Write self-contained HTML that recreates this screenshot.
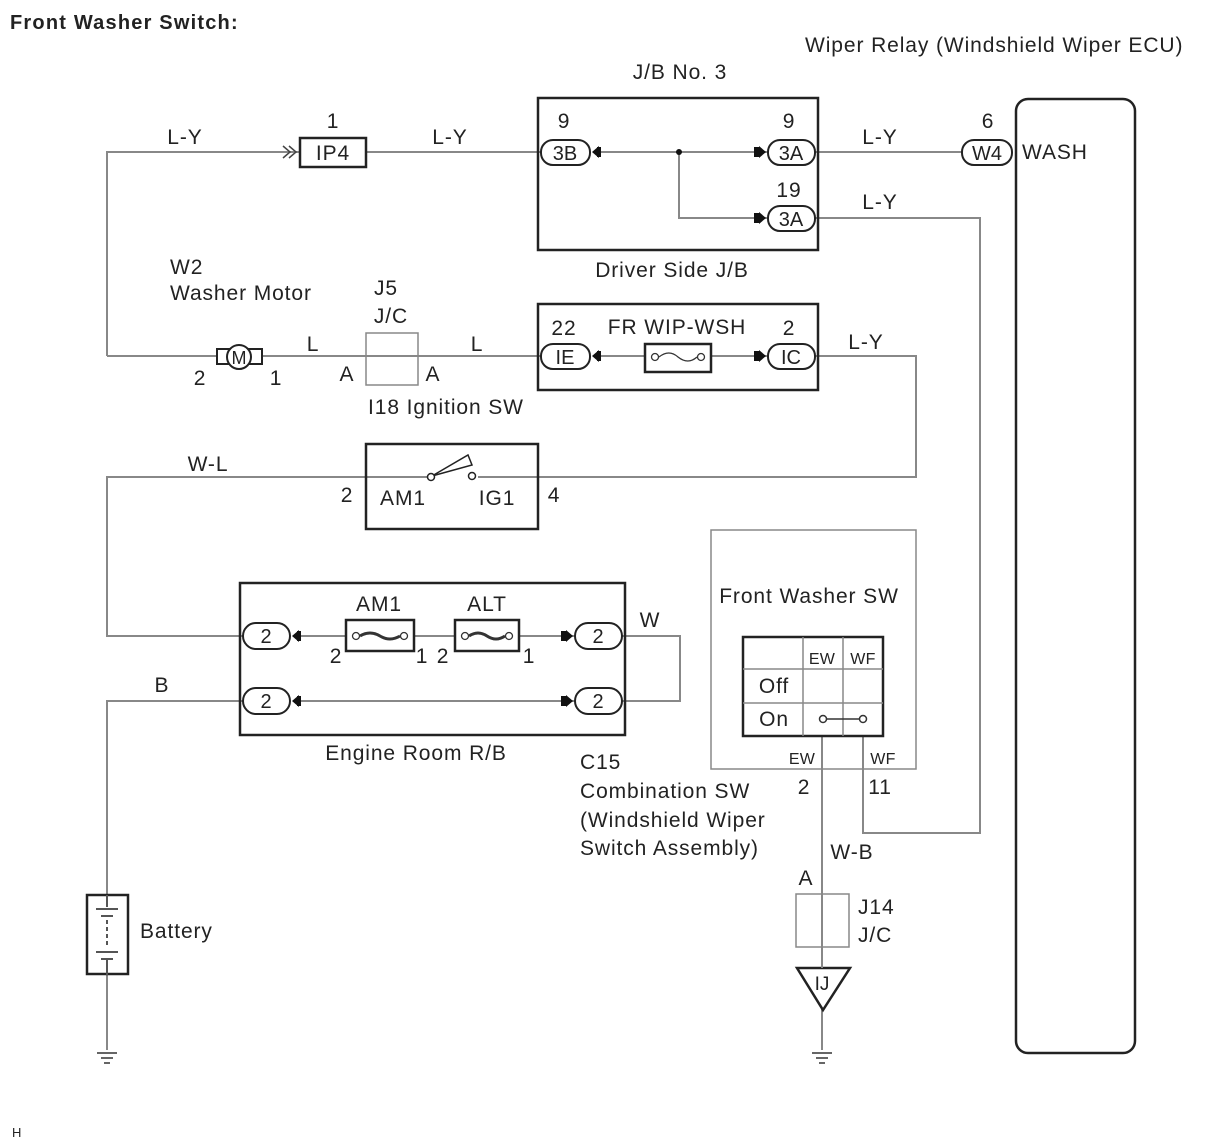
<!DOCTYPE html>
<html><head><meta charset="utf-8"><style>
html,body{margin:0;padding:0;background:#fff;}
svg{display:block;font-family:"Liberation Sans",Arial,sans-serif;}
</style></head><body>
<svg width="1212" height="1144" viewBox="0 0 1212 1144" xmlns="http://www.w3.org/2000/svg">
<g fill="#222" font-size="21" letter-spacing="0.9">
<text x="10" y="29" font-weight="bold" font-size="20" letter-spacing="1.2">Front Washer Switch:</text>
<text x="805" y="52">Wiper Relay (Windshield Wiper ECU)</text>
<text x="680" y="79" text-anchor="middle">J/B No. 3</text>
<text x="672" y="277" text-anchor="middle">Driver Side J/B</text>
<text x="185" y="144" text-anchor="middle">L-Y</text>
<text x="450" y="144" text-anchor="middle">L-Y</text>
<text x="880" y="144" text-anchor="middle">L-Y</text>
<text x="880" y="209" text-anchor="middle">L-Y</text>
<text x="866" y="349" text-anchor="middle">L-Y</text>
<text x="333" y="128" text-anchor="middle">1</text>
<text x="564" y="128" text-anchor="middle">9</text>
<text x="789" y="128" text-anchor="middle">9</text>
<text x="789" y="197" text-anchor="middle">19</text>
<text x="988" y="128" text-anchor="middle">6</text>
<text x="1022" y="159">WASH</text>
<text x="170" y="274">W2</text>
<text x="170" y="300">Washer Motor</text>
<text x="386" y="295" text-anchor="middle">J5</text>
<text x="391" y="323" text-anchor="middle">J/C</text>
<text x="313" y="351" text-anchor="middle">L</text>
<text x="477" y="351" text-anchor="middle">L</text>
<text x="200" y="385" text-anchor="middle">2</text>
<text x="276" y="385" text-anchor="middle">1</text>
<text x="347" y="381" text-anchor="middle">A</text>
<text x="433" y="381" text-anchor="middle">A</text>
<text x="368" y="414">I18  Ignition SW</text>
<text x="564" y="335" text-anchor="middle">22</text>
<text x="789" y="335" text-anchor="middle">2</text>
<text x="677" y="334" text-anchor="middle">FR WIP-WSH</text>
<text x="208" y="471" text-anchor="middle">W-L</text>
<text x="347" y="502" text-anchor="middle">2</text>
<text x="554" y="502" text-anchor="middle">4</text>
<text x="403" y="505" text-anchor="middle">AM1</text>
<text x="497" y="505" text-anchor="middle">IG1</text>
<text x="379" y="611" text-anchor="middle">AM1</text>
<text x="487" y="611" text-anchor="middle">ALT</text>
<text x="336" y="663" text-anchor="middle">2</text>
<text x="422" y="663" text-anchor="middle">1</text>
<text x="443" y="663" text-anchor="middle">2</text>
<text x="529" y="663" text-anchor="middle">1</text>
<text x="650" y="627" text-anchor="middle">W</text>
<text x="162" y="692" text-anchor="middle">B</text>
<text x="416" y="760" text-anchor="middle">Engine Room R/B</text>
<text x="809" y="603" text-anchor="middle">Front Washer SW</text>
<text x="580" y="769">C15</text>
<text x="580" y="798">Combination SW</text>
<text x="580" y="827">(Windshield Wiper</text>
<text x="580" y="855">Switch Assembly)</text>
<text x="804" y="794" text-anchor="middle">2</text>
<text x="880" y="794" text-anchor="middle">11</text>
<text x="852" y="859" text-anchor="middle">W-B</text>
<text x="806" y="885" text-anchor="middle">A</text>
<text x="858" y="914">J14</text>
<text x="858" y="942">J/C</text>
<text x="140" y="938">Battery</text>
<text x="12" y="1137" font-size="13" letter-spacing="0">H</text>
<text x="822" y="664" text-anchor="middle" font-size="16" letter-spacing="0.3">EW</text>
<text x="863" y="664" text-anchor="middle" font-size="16" letter-spacing="0.3">WF</text>
<text x="774" y="693" text-anchor="middle">Off</text>
<text x="774" y="726" text-anchor="middle">On</text>
<text x="802" y="764" text-anchor="middle" font-size="16" letter-spacing="0.3">EW</text>
<text x="883" y="764" text-anchor="middle" font-size="16" letter-spacing="0.3">WF</text>
</g>
<!-- wires -->
<g stroke="#888" stroke-width="2" fill="none">
<polyline points="107,356 107,152 300,152"/>
<line x1="366" y1="152" x2="541" y2="152"/>
<line x1="600" y1="152" x2="768" y2="152"/>
<polyline points="679,152 679,218 768,218"/>
<line x1="815" y1="152" x2="962" y2="152"/>
<polyline points="815,218 980,218 980,833 863,833 863,736"/>
<line x1="107" y1="356" x2="218" y2="356"/>
<line x1="262" y1="356" x2="541" y2="356"/>
<line x1="600" y1="356" x2="645" y2="356"/>
<line x1="711" y1="356" x2="768" y2="356"/>
<polyline points="815,356 916,356 916,477 478,477"/>
<polyline points="431,477 107,477 107,636 243,636"/>
<line x1="298" y1="636" x2="346" y2="636"/>
<line x1="414" y1="636" x2="455" y2="636"/>
<line x1="519" y1="636" x2="575" y2="636"/>
<polyline points="622,636 680,636 680,701 622,701"/>
<line x1="298" y1="701" x2="575" y2="701"/>
<polyline points="243,701 107,701 107,1050"/>
<polyline points="822,736 822,1050"/>
</g>
<!-- boxes -->
<g stroke="#222" stroke-width="2.5" fill="none">
<rect x="538" y="98" width="280" height="152"/>
<rect x="538" y="304" width="280" height="86"/>
<rect x="366" y="444" width="172" height="85"/>
<rect x="240" y="583" width="385" height="152"/>
<rect x="1016" y="99" width="119" height="954" rx="12"/>
<rect x="300" y="138" width="66" height="29" fill="#fff"/>
<rect x="645" y="344" width="66" height="28" fill="#fff"/>
<rect x="346" y="620" width="68" height="31" fill="#fff"/>
<rect x="455" y="620" width="64" height="31" fill="#fff"/>
<rect x="87" y="895" width="41" height="79" fill="#fff"/>
<rect x="743" y="637" width="140" height="99"/>
</g>
<g stroke="#888" stroke-width="1.5" fill="none">
<rect x="711" y="530" width="205" height="239"/>
<rect x="366" y="333" width="52" height="52"/>
<rect x="796" y="894" width="53" height="53"/>
<line x1="803" y1="637" x2="803" y2="736"/>
<line x1="843" y1="637" x2="843" y2="736"/>
<line x1="743" y1="669" x2="883" y2="669"/>
<line x1="743" y1="703" x2="883" y2="703"/>
</g>
<g fill="#222" font-size="21" letter-spacing="0.9">
<text x="333" y="160" text-anchor="middle">IP4</text>
</g>
<!-- connectors -->
<g stroke="#222" stroke-width="2" fill="#fff">
<rect x="541" y="140" width="49" height="25" rx="12"/>
<rect x="768" y="140" width="47" height="25" rx="12"/>
<rect x="768" y="206" width="47" height="25" rx="12"/>
<rect x="962" y="140" width="50" height="25" rx="12"/>
<rect x="541" y="344" width="49" height="25" rx="12"/>
<rect x="768" y="344" width="47" height="25" rx="12"/>
<rect x="243" y="623" width="47" height="26" rx="13"/>
<rect x="575" y="623" width="47" height="26" rx="13"/>
<rect x="243" y="688" width="47" height="26" rx="13"/>
<rect x="575" y="688" width="47" height="26" rx="13"/>
</g>
<g fill="#222" font-size="20" text-anchor="middle">
<text x="565" y="160">3B</text>
<text x="791" y="160">3A</text>
<text x="791" y="226">3A</text>
<text x="987" y="160">W4</text>
<text x="565" y="364">IE</text>
<text x="791" y="364">IC</text>
<text x="266" y="643">2</text>
<text x="598" y="643">2</text>
<text x="266" y="708">2</text>
<text x="598" y="708">2</text>
</g>
<!-- arrow marks -->
<g fill="#111">
<path d="M592,152 l7,-6 v12 z M597,147 h4 v10 h-4z"/>
<path d="M592,356 l7,-6 v12 z M597,351 h4 v10 h-4z"/>
<path d="M292,636 l7,-6 v12 z M297,631 h4 v10 h-4z"/>
<path d="M292,701 l7,-6 v12 z M297,696 h4 v10 h-4z"/>
<path d="M766,152 l-7,-6 v12 z M754,147 h5 v10 h-5z"/>
<path d="M766,218 l-7,-6 v12 z M754,213 h5 v10 h-5z"/>
<path d="M766,356 l-7,-6 v12 z M754,351 h5 v10 h-5z"/>
<path d="M573,636 l-7,-6 v12 z M561,631 h5 v10 h-5z"/>
<path d="M573,701 l-7,-6 v12 z M561,696 h5 v10 h-5z"/>
<circle cx="679" cy="152" r="3"/>
</g>
<g stroke="#444" stroke-width="1.5" fill="none">
<polyline points="283,146 290,152 283,158"/><polyline points="289,146 296,152 289,158"/>
</g>
<!-- fuses -->
<g stroke="#333" stroke-width="1.3" fill="#fff">
<circle cx="655" cy="357" r="3.5"/><circle cx="701" cy="357" r="3.5"/>
<path d="M659,357 q10,-8 19,0 q10,8 19,0" fill="none"/>
<circle cx="356" cy="636" r="3.5"/><circle cx="404" cy="636" r="3.5"/>
<path d="M360,636 q10,-6 20,0 q10,6 20,0" fill="none" stroke-width="3"/>
<circle cx="465" cy="636" r="3.5"/><circle cx="509" cy="636" r="3.5"/>
<path d="M469,636 q9,-6 18,0 q9,6 18,0" fill="none" stroke-width="3"/>
</g>
<!-- motor -->
<g stroke="#222" stroke-width="2" fill="#fff">
<rect x="217" y="349" width="14" height="15"/>
<rect x="248" y="349" width="14" height="15"/>
<circle cx="239" cy="357" r="12"/>
</g>
<text x="239" y="364" font-size="18" text-anchor="middle" fill="#222" font-family="Liberation Sans">M</text>
<!-- ignition switch -->
<g stroke="#222" stroke-width="1.5" fill="#fff">
<path d="M432,476 L468,455 L472,465 Z" fill="none"/>
<circle cx="431" cy="477" r="3.5"/><circle cx="472" cy="476" r="3.5"/>
</g>
<!-- switch On -->
<g stroke="#333" stroke-width="1.5" fill="#fff">
<line x1="826" y1="719" x2="859" y2="719"/>
<circle cx="823" cy="719" r="3.5"/><circle cx="863" cy="719" r="3.5"/>
</g>
<!-- battery -->
<g stroke="#555" stroke-width="2">
<line x1="107" y1="895" x2="107" y2="907"/>
<line x1="96" y1="909" x2="118" y2="909"/>
<line x1="101" y1="916" x2="113" y2="916"/>
<line x1="107" y1="920" x2="107" y2="945" stroke-dasharray="4,3"/>
<line x1="96" y1="952" x2="118" y2="952"/>
<line x1="101" y1="959" x2="113" y2="959"/>
<line x1="107" y1="960" x2="107" y2="975"/>
</g>
<!-- grounds -->
<g stroke="#666" stroke-width="2">
<line x1="97" y1="1053" x2="117" y2="1053"/><line x1="101" y1="1058" x2="113" y2="1058"/><line x1="104" y1="1063" x2="110" y2="1063"/>
<line x1="812" y1="1053" x2="832" y2="1053"/><line x1="816" y1="1058" x2="828" y2="1058"/><line x1="819" y1="1063" x2="825" y2="1063"/>
</g>
<path d="M797,968 L850,968 L823,1010 Z" fill="#fff" stroke="#222" stroke-width="2.5"/>
<line x1="822" y1="947" x2="822" y2="968" stroke="#888" stroke-width="2"/>
<text x="822" y="990" font-size="19" text-anchor="middle" fill="#222" font-family="Liberation Sans">IJ</text>
</svg>
</body></html>
